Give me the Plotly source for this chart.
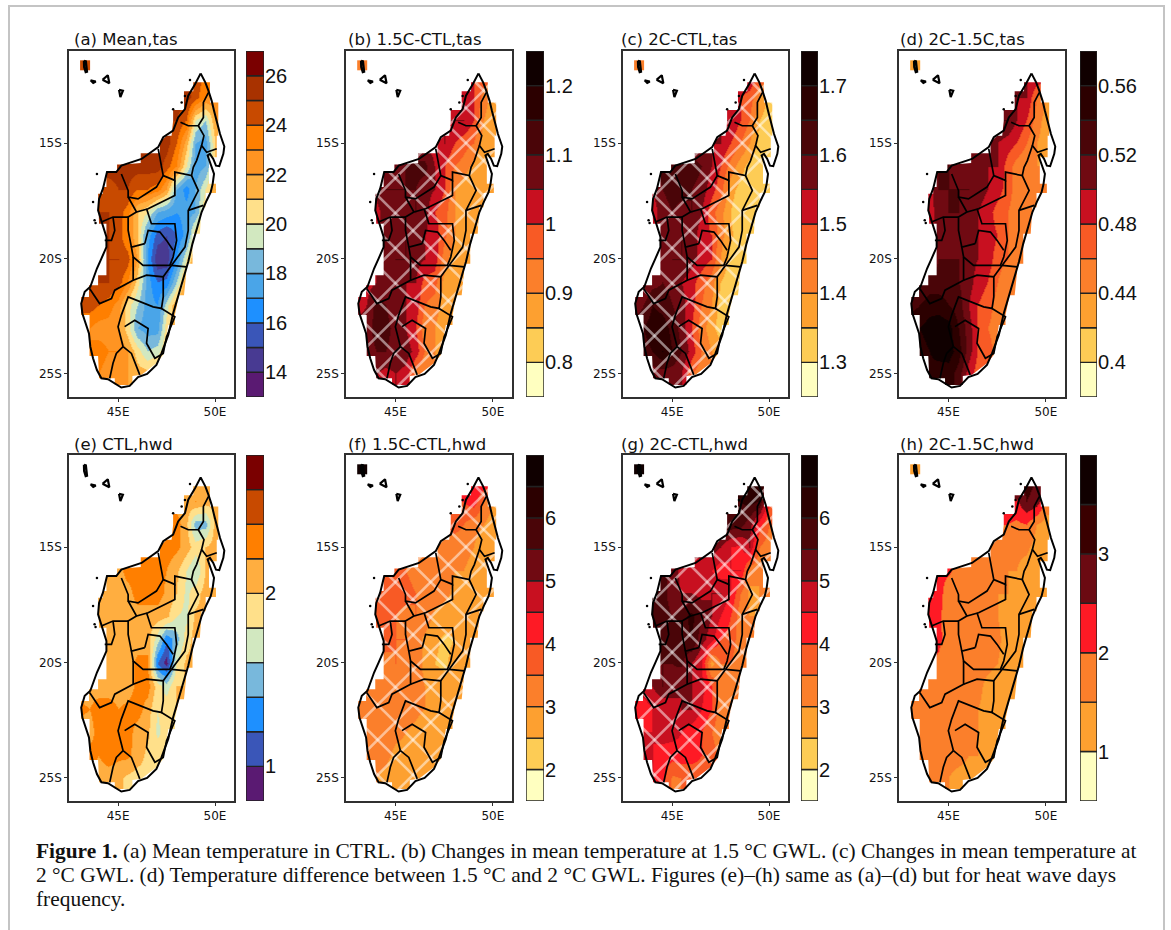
import plotly.graph_objects as go

# ---------- grid ----------
GRID_LON = [43, 43.5, 44, 44.5, 45, 45.5, 46, 46.5, 47, 47.5, 48, 48.5, 49, 49.5, 50, 50.5]
GRID_LAT = [-12, -13, -14, -15, -16, -17, -18, -19, -20, -21, -22, -23, -24, -25]
ROW_FIRST_LON = [49, 48.5, 48, 47, 45, 44, 44, 44.5, 44, 43.5, 43, 43.5, 43.5, 44]

TAS_MEAN = [
 [24.5, 24, 23],
 [25.5, 24.5, 23, 22.5],
 [25, 24, 20, 19, 22],
 [26, 25.5, 24, 21.5, 18, 17.5, 21, 23],
 [25.5, 25.5, 25.5, 25.5, 25.5, 24.5, 23, 20, 17.5, 18, 21],
 [24.5, 24.5, 25, 25, 24, 24, 23.5, 22, 18, 16.5, 18, 20, 22],
 [25, 25, 24.5, 23.5, 21, 20, 18, 17.5, 17, 17.5, 18, 21],
 [25, 24.5, 23, 21, 17.5, 15.5, 15, 16, 17.5, 21],
 [25, 25, 25, 24.5, 22, 17, 14.2, 14.3, 17, 20, 22],
 [24, 25, 25, 24.5, 23, 20.5, 17.5, 16, 16.3, 19, 22],
 [24.5, 24.5, 24, 23.5, 22.5, 20.5, 19, 17.5, 17, 19.5, 22],
 [23, 22.5, 22.5, 22, 20.5, 18, 17.5, 17.5, 20.5, 22],
 [23, 23.5, 23, 23, 22, 20.5, 19, 19.5, 21],
 [23, 22.5, 22, 22, 21.5, 21.5, 22],
]
TAS_15 = [
 [1.0, 0.98],
 [1.03, 1.0, .93, .87],
 [1.05, 1.05, 1.0, .9, .86],
 [1.03, 1.05, 1.0, .97, .95, .87, .86],
 [1.08, 1.1, 1.12, 1.12, 1.05, 1.0, .95, .93, .88, .86],
 [1.07, 1.1, 1.1, 1.1, 1.1, 1.07, 1.05, 1.0, .9, .87, .85, .86],
 [1.03, 1.08, 1.09, 1.07, 1.1, 1.08, 1.0, .97, .9, .86, .86],
 [1.05, 1.08, 1.1, 1.08, 1.05, 1.03, .96, .9, .87, .86],
 [1.05, 1.08, 1.1, 1.1, 1.07, 1.05, 1.03, .92, .87, .86],
 [1.03, 1.05, 1.07, 1.07, 1.05, 1.05, .98, .97, .88, .86],
 [1.03, 1.05, 1.12, 1.1, 1.07, 1.05, 1.03, .95, .93, .87, .86],
 [1.07, 1.13, 1.12, 1.08, 1.05, 1.0, .92, .9, .86],
 [1.07, 1.1, 1.1, 1.08, 1.08, 1.03, .95, .9, .88],
 [1.05, 1.03, 1.05, 1.03, .93, .9, .9],
]
TAS_20 = [
 [1.55, 1.5],
 [1.5, 1.48, 1.4, 1.33],
 [1.55, 1.5, 1.45, 1.35, 1.32],
 [1.55, 1.55, 1.5, 1.45, 1.4, 1.33, 1.32],
 [1.62, 1.63, 1.63, 1.6, 1.55, 1.5, 1.43, 1.37, 1.33, 1.32],
 [1.55, 1.6, 1.62, 1.62, 1.6, 1.58, 1.52, 1.47, 1.37, 1.33, 1.32, 1.32],
 [1.52, 1.58, 1.6, 1.58, 1.6, 1.55, 1.47, 1.42, 1.35, 1.31, 1.31],
 [1.55, 1.58, 1.6, 1.58, 1.52, 1.5, 1.42, 1.36, 1.32, 1.31],
 [1.55, 1.58, 1.6, 1.6, 1.57, 1.53, 1.5, 1.4, 1.33, 1.31],
 [1.55, 1.58, 1.6, 1.58, 1.55, 1.52, 1.47, 1.42, 1.35, 1.32],
 [1.55, 1.6, 1.65, 1.63, 1.6, 1.57, 1.52, 1.45, 1.4, 1.33, 1.32],
 [1.65, 1.68, 1.68, 1.63, 1.58, 1.5, 1.42, 1.37, 1.32],
 [1.63, 1.65, 1.7, 1.65, 1.6, 1.53, 1.45, 1.4, 1.38],
 [1.57, 1.57, 1.57, 1.55, 1.45, 1.42, 1.42],
]
TAS_DIFF = [
 [.5, .5],
 [.5, .5, .46, .44],
 [.52, .5, .48, .45, .43],
 [.52, .5, .49, .48, .46, .44, .43],
 [.52, .51, .51, .5, .5, .5, .47, .45, .44, .44],
 [.49, .52, .52, .52, .52, .51, .5, .49, .47, .45, .44, .44],
 [.49, .51, .52, .52, .51, .5, .49, .47, .46, .45, .44],
 [.5, .51, .51, .51, .5, .49, .48, .46, .45, .44],
 [.5, .52, .52, .52, .51, .5, .49, .47, .46, .44],
 [.52, .53, .53, .53, .52, .51, .49, .48, .46, .44],
 [.53, .54, .55, .55, .54, .53, .5, .48, .47, .45, .44],
 [.56, .57, .575, .57, .54, .51, .48, .46, .45],
 [.55, .56, .575, .57, .55, .51, .48, .47, .45],
 [.55, .54, .55, .53, .49, .47, .46],
]
HWD_CTL = [
 [2.1, 2.15],
 [2.1, 2.2, 2.1, 2.05],
 [2.3, 2.05, 1.5, 1.5, 2.1],
 [2.3, 2.3, 2.25, 2.1, 1.9, 2.0, 2.1],
 [2.1, 2.3, 2.3, 2.3, 2.3, 2.2, 2.05, 1.8, 1.6, 2.0],
 [2.1, 2.1, 2.1, 2.1, 2.3, 2.3, 2.3, 2.15, 2.0, 1.75, 1.9, 2.1],
 [2.1, 2.1, 2.1, 2.1, 2.1, 2.1, 2.1, 2.05, 1.8, 1.75, 2.05],
 [2.1, 2.1, 2.1, 2.1, 2.1, 1.7, 1.25, 1.5, 1.9, 2.1],
 [2.1, 2.1, 2.1, 2.1, 2.25, 2.25, 1.2, .9, 1.8, 2.05],
 [2.1, 2.1, 2.1, 2.1, 2.1, 2.25, 2.3, 1.9, 1.7, 2.0],
 [2.25, 2.2, 2.3, 2.3, 2.2, 2.25, 2.3, 2.1, 1.8, 1.95, 2.0],
 [2.1, 2.3, 2.3, 2.3, 2.3, 2.1, 2.05, 1.75, 1.9],
 [2.3, 2.2, 2.3, 2.25, 2.25, 2.1, 1.95, 1.95, 1.95],
 [2.1, 2.1, 2.05, 1.95, 1.9, 1.95, 1.95],
]
HWD_15 = [
 [4.3, 4.5],
 [4, 4.3, 3.5, 3],
 [3.7, 3.5, 3.2, 3, 2.7],
 [3.5, 3.3, 3.2, 3.2, 3, 2.6, 2.5],
 [3.6, 3.5, 3.4, 3.3, 3.2, 3.2, 3, 3, 2.8, 2.5],
 [3.9, 3.8, 3.6, 3.6, 3.5, 3.4, 3.2, 3.1, 2.9, 2.8, 2.7, 2.5],
 [3.9, 3.6, 3.5, 3.4, 3.5, 3.3, 2.9, 2.8, 2.8, 2.6, 2.5],
 [3.6, 3.5, 3.5, 3.2, 2.9, 2.6, 2.4, 2.5, 2.5, 2.5],
 [3.6, 3.4, 3.5, 3.4, 3.2, 2.9, 2.5, 2.4, 2.7, 2.6],
 [3.3, 3.2, 3.2, 3.3, 3.2, 3.2, 3, 2.7, 2.7, 2.7],
 [3.3, 3.2, 3.2, 3.2, 3.2, 3.2, 3.1, 3.0, 2.8, 2.7, 2.6],
 [3.2, 3.1, 3.2, 3.1, 3.0, 2.9, 2.7, 2.6, 2.5],
 [3.1, 3.1, 3.1, 2.9, 2.9, 2.8, 2.6, 2.5, 2.5],
 [3.0, 2.9, 2.7, 2.6, 2.6, 2.6, 2.6],
]
HWD_20 = [
 [6.5, 6.5],
 [6, 6.2, 6, 4],
 [5.8, 5.7, 5.2, 4.2, 3.5],
 [5.3, 5, 4.5, 4.4, 5, 3.5, 3.2],
 [5.5, 4.7, 4.6, 4.7, 4.5, 4.2, 4.5, 4.5, 3.2, 3],
 [6, 5.7, 5.2, 5, 5, 4.8, 5, 5, 4.5, 3.5, 2.9, 3],
 [6, 5.7, 5.5, 5.7, 6.2, 5.5, 5, 4.5, 4, 3.2, 3],
 [5.5, 5.6, 5.7, 6, 5.2, 4.7, 4, 3.8, 3.2, 3],
 [5.5, 5.5, 5.5, 5.6, 5, 4.5, 2.8, 3.5, 3.5, 3.2],
 [4.8, 5, 5.5, 5.4, 5, 5, 4.7, 4, 3.2, 3.1],
 [4, 4.2, 4.5, 4.5, 4.6, 5, 5, 4.5, 4, 3.2, 3],
 [4.5, 4.5, 4.8, 4.7, 4.5, 4.2, 4, 3.5, 3.2],
 [4.7, 4.5, 4.2, 4.2, 4.3, 4.3, 4, 3.7, 3.4],
 [4.5, 4.2, 3.4, 3.5, 3.5, 3.7, 3.7],
]
HWD_DIFF = [
 [3.2, 3],
 [2.4, 3, 2.8, 1.8],
 [2, 1.9, 2, 1.5, 1.3],
 [1.8, 1.7, 1.6, 1.6, 1.6, 1.3, 1.2],
 [2.1, 1.8, 1.7, 1.7, 1.5, 1.5, 1.5, 1.5, 1.3, 1.2],
 [2.3, 2.2, 1.7, 1.7, 1.6, 1.6, 1.7, 1.5, 1.5, 1.2, 1.2, 1.2],
 [2.4, 2.1, 1.7, 1.7, 1.7, 1.6, 1.5, 1.5, 1.3, 1.2, 1.2],
 [2.1, 1.8, 1.6, 1.7, 1.6, 1.6, 1.6, 1.3, 1.2, 1.2],
 [2.1, 1.9, 1.7, 1.7, 1.7, 1.6, 1.6, 1.5, 1.3, 1.2],
 [1.8, 1.9, 1.9, 1.8, 1.7, 1.7, 1.6, 1.4, 1.3, 1.2],
 [1.6, 1.7, 1.7, 1.7, 1.7, 1.7, 1.6, 1.5, 1.4, 1.3, 1.2],
 [1.7, 1.7, 1.7, 1.7, 1.6, 1.6, 1.5, 1.4, 1.3],
 [1.6, 1.6, 1.6, 1.6, 1.6, 1.5, 1.5, 1.3, 1.3],
 [1.6, 1.5, 1.5, 1.4, 1.4, 1.4, 1.4],
]

# ---------- map outlines (lon, lat) ----------
COAST_LON = [49.26,49.50,49.66,49.83,49.95,50.09,50.26,50.48,50.43,50.22,50.05,49.91,49.74,49.62,49.78,49.95,49.88,49.78,49.57,49.31,49.09,48.84,48.62,48.40,48.10,47.84,47.59,47.24,46.98,46.50,46.03,45.60,45.17,44.83,44.48,44.14,43.91,43.71,43.57,43.50,43.16,43.10,43.28,43.57,43.91,44.14,44.40,44.40,44.14,43.97,44.02,44.22,44.43,44.91,45.17,46.21,47.07,47.33,47.84,48.10,48.45,48.62,48.97,49.26]
COAST_LAT = [-11.97,-12.36,-12.72,-13.16,-13.59,-14.02,-14.60,-15.14,-15.46,-15.99,-15.97,-15.68,-15.46,-15.53,-15.89,-16.33,-16.76,-17.12,-17.48,-17.98,-18.63,-19.35,-20.14,-20.79,-21.66,-22.38,-23.31,-24.11,-24.61,-25.00,-25.14,-25.52,-25.59,-25.40,-25.23,-25.19,-24.83,-24.32,-23.82,-23.24,-22.38,-21.95,-21.44,-21.22,-20.43,-20.00,-19.50,-19.06,-18.41,-17.91,-17.41,-16.97,-16.25,-16.25,-15.97,-15.68,-15.17,-14.74,-14.45,-13.88,-13.52,-12.94,-12.44,-11.97]
# stair-stepped edge of the land cells that carry data
LAND_LON = [48.97,49.74,49.74,50.17,50.17,50.09,50.09,49.69,49.69,50.05,50.05,49.52,49.52,49.31,49.22,48.84,48.84,48.53,48.50,48.40,48.14,47.93,47.93,47.59,47.47,47.33,46.98,46.21,45.74,45.74,44.83,44.83,44.02,43.97,43.53,43.53,43.10,43.10,43.50,43.50,43.97,43.97,44.40,44.40,44.02,43.97,44.22,44.22,44.40,44.40,44.95,44.95,45.26,46.17,46.17,47.16,47.16,47.50,47.76,47.84,47.84,48.40,48.40,48.88,48.88,48.97]
LAND_LAT = [-12.36,-12.36,-13.23,-13.23,-14.67,-14.67,-15.61,-15.61,-16.76,-16.76,-17.16,-17.16,-17.77,-17.77,-18.92,-18.92,-20.22,-20.22,-20.79,-21.59,-21.59,-22.45,-22.88,-22.88,-23.53,-24.18,-24.54,-25.04,-25.09,-25.48,-25.48,-25.19,-25.19,-24.22,-24.22,-22.45,-22.45,-21.66,-21.66,-21.15,-21.15,-20.72,-20.72,-18.49,-18.49,-17.19,-17.19,-16.90,-16.90,-16.25,-16.25,-15.92,-15.92,-15.86,-15.43,-15.43,-14.96,-14.67,-14.67,-14.02,-13.56,-13.56,-12.75,-12.75,-12.36,-12.36]
ADMIN_LON = [48.22,48.62,49.14,49.40,49.40,49.66,None, 49.14,49.43,49.31,49.57,50.09,None,
 47.07,47.24,47.33,47.93,47.93,48.79,48.88,49.05,49.31,None,
 45.17,45.52,45.52,46.03,46.98,47.33,None, 45.52,45.95,46.55,47.93,47.93,None,
 48.79,49.14,48.62,48.62,48.45,47.76,48.53,None, 48.62,49.40,None,
 46.47,46.72,47.93,48.02,47.84,47.67,46.29,45.78,45.69,46.38,None,
 46.38,46.55,47.16,47.50,47.84,None, 45.95,45.52,45.52,45.69,None,
 44.14,44.74,45.52,None, 44.74,44.83,44.66,44.31,None,
 45.78,45.78,44.83,44.66,44.05,43.53,None,
 45.78,46.47,47.33,47.33,47.24,46.81,45.52,45.17,45.00,45.17,45.26,None,
 47.24,47.93,47.76,47.50,47.33,46.90,46.47,46.55,45.86,45.34,None, 47.76,47.33,None,
 45.26,44.91,44.74,44.57,None, 45.26,45.69,46.12]
ADMIN_LAT = [-14.09,-14.24,-14.24,-13.88,-13.23,-12.80,None, -14.24,-14.67,-15.10,-15.39,-15.24,None,
 -15.24,-15.97,-16.40,-16.61,-16.25,-16.40,-16.04,-15.75,-15.10,None,
 -16.33,-17.05,-17.33,-17.41,-16.90,-16.40,None, -17.33,-17.98,-17.84,-17.26,-16.61,None,
 -16.40,-17.05,-17.91,-18.78,-19.50,-20.29,-20.36,None, -17.91,-17.69,None,
 -17.84,-18.49,-18.49,-19.21,-19.93,-20.29,-20.29,-19.93,-19.50,-19.35,None,
 -19.35,-18.78,-18.85,-19.21,-19.64,None, -17.98,-18.20,-18.78,-19.50,None,
 -18.41,-18.20,-18.20,None, -18.20,-18.78,-19.21,-19.21,None,
 -19.93,-20.94,-21.37,-21.73,-21.95,-21.30,None,
 -20.94,-20.72,-20.79,-21.66,-22.16,-22.09,-21.66,-22.45,-22.95,-23.46,-23.82,None,
 -22.16,-22.52,-22.88,-23.39,-24.11,-24.32,-23.67,-23.03,-22.67,-22.95,None, -20.29,-20.79,None,
 -23.82,-24.11,-24.54,-25.19,None, -23.82,-24.11,-25.04]
ISLAND_LON = [43.24,43.34,43.40,43.33,43.25,43.24,None, 43.58,43.85,43.72,43.58,None, 44.20,44.47,44.55,44.20,None, 45.05,45.25,45.12,45.05]
ISLAND_LAT = [-11.42,-11.45,-11.90,-11.92,-11.70,-11.42,None, -12.27,-12.32,-12.38,-12.27,None, -12.25,-12.05,-12.40,-12.25,None, -12.68,-12.72,-13.00,-12.68]
ISLET_LON = [43.71,43.91,43.79,43.84,48.71,47.84,48.28,48.45]
ISLET_LAT = [-17.55,-16.33,-18.34,-18.46,-12.26,-13.52,-13.23,-12.95]
COMORE_CELL = (43.30, -11.62)

# hatch lines: latitude where each crosses 45E
HATCH_LAT_AT_45E = [-31.71, -30.19, -28.67, -27.15, -25.63, -24.11, -22.59, -21.07, -19.55, -18.03, -16.51, -14.99, -13.47, -11.95, -10.43, -8.91]
HATCH_SLOPE = 0.84

# ---------- colours ----------
COOL_14 = ["#5a1a72","#483a92","#3a56b8","#1e90ff","#4aa5e8","#78b8dc","#d2e8c0","#ffe08a","#ffb040","#ff9422","#ff7f00","#c84a00","#a83200","#7a0000"]
COOL_10 = ["#5a1a72","#3a56b8","#1e90ff","#78b8dc","#d2e8c0","#ffe08a","#ffae40","#ff7f00","#c84a00","#7a0000"]
HOT_10 = ["#ffffc0","#fdcc55","#fda030","#fb7f2b","#f85a25","#c81020","#700a12","#4a0508","#2c0000","#100000"]
HOT_11 = ["#ffffc0","#fdcc55","#fda030","#fb7f2b","#f85a25","#fe1a25","#c81020","#700a12","#4a0508","#2c0000","#100000"]
HOT_7 = ["#ffffc0","#fda030","#fb7f2b","#fe1a25","#6b0a12","#3a0000","#100000"]

# ---------- panels ----------
PANELS = [
 dict(title="(a) Mean,tas", z=TAS_MEAN, colors=COOL_14, lo=13, step=1, ticks=[14,16,18,20,22,24,26], labels=["14","16","18","20","22","24","26"], hatch=False, cell="#c84a00"),
 dict(title="(b) 1.5C-CTL,tas", z=TAS_15, colors=HOT_10, lo=.75, step=.05, ticks=[.8,.9,1,1.1,1.2], labels=["0.8","0.9","1","1.1","1.2"], hatch=True, cell="#fb7f2b"),
 dict(title="(c) 2C-CTL,tas", z=TAS_20, colors=HOT_10, lo=1.25, step=.05, ticks=[1.3,1.4,1.5,1.6,1.7], labels=["1.3","1.4","1.5","1.6","1.7"], hatch=True, cell="#fb7f2b"),
 dict(title="(d) 2C-1.5C,tas", z=TAS_DIFF, colors=HOT_10, lo=.38, step=.02, ticks=[.4,.44,.48,.52,.56], labels=["0.4","0.44","0.48","0.52","0.56"], hatch=False, cell="#fda030"),
 dict(title="(e) CTL,hwd", z=HWD_CTL, colors=COOL_10, lo=.8, step=.2, ticks=[1,2], labels=["1","2"], hatch=False, cell=None),
 dict(title="(f) 1.5C-CTL,hwd", z=HWD_15, colors=HOT_11, lo=1.5, step=.5, ticks=[2,3,4,5,6], labels=["2","3","4","5","6"], hatch=True, cell="#100000"),
 dict(title="(g) 2C-CTL,hwd", z=HWD_20, colors=HOT_11, lo=1.5, step=.5, ticks=[2,3,4,5,6], labels=["2","3","4","5","6"], hatch=True, cell="#100000"),
 dict(title="(h) 2C-1.5C,hwd", z=HWD_DIFF, colors=HOT_7, lo=.5, step=.5, ticks=[1,2,3], labels=["1","2","3"], hatch=False, cell="#fda030"),
]
MAP_LEFT = [69, 346, 623, 899]
MAP_RIGHT = [234, 512, 788, 1065]
BAR_LEFT = [246, 526, 801, 1080]
BAR_RIGHT = [264, 544, 818, 1097]
TITLE_LEFT = [72, 346, 619, 898]
ROW_TOP = [51, 455]
ROW_BOTTOM = [397, 801]
W, H = 1171, 930
LON_RANGE = [42.47, 50.98]
LAT_RANGE = [-26, -11]
FRAME = "#303030"


def full_grid(rows):
    out = []
    for first, vals in zip(ROW_FIRST_LON, rows):
        row = []
        for lon in GRID_LON:
            k = int(round((lon - first) * 2))
            row.append(vals[max(0, min(k, len(vals) - 1))])
        out.append(row)
    out.append(list(out[-1]))
    return out


def stepped(colors):
    n = len(colors)
    s = []
    for i, c in enumerate(colors):
        s += [[i / n, c], [(i + 1) / n, c]]
    return s


fig = go.Figure()
layout = dict(
    width=W, height=H, autosize=False, margin=dict(l=0, r=0, t=0, b=0),
    paper_bgcolor="white", plot_bgcolor="white", showlegend=False, barmode="overlay",
)
annotations = []

mask_lon = [48.97, 42.47, 42.47, 50.98, 50.98, 48.97] + LAND_LON + [48.97]
mask_lat = [-11, -11, -26, -26, -11, -11] + LAND_LAT + [-11]

hatch_lon, hatch_lat = [], []
for c in HATCH_LAT_AT_45E:
    for sign in (1, -1):
        hatch_lon += [42.47, 50.98, None]
        hatch_lat += [c + sign * HATCH_SLOPE * (42.47 - 45), c + sign * HATCH_SLOPE * (50.98 - 45), None]

for idx, p in enumerate(PANELS):
    r = idx // 4
    c = idx % 4
    xa, ya = f"x{2*idx+1}", f"y{2*idx+1}"
    xb, yb = f"x{2*idx+2}", f"y{2*idx+2}"
    n = len(p["colors"])
    hi = p["lo"] + n * p["step"]
    fig.add_trace(go.Contour(
        x=GRID_LON, y=GRID_LAT + [-26], z=full_grid(p["z"]), xaxis=xa, yaxis=ya,
        colorscale=stepped(p["colors"]), zmin=p["lo"], zmax=hi, showscale=False,
        autocontour=False,
        contours=dict(coloring="heatmap", showlines=False, start=p["lo"], end=hi, size=p["step"]),
        line=dict(width=0), hoverinfo="skip",
    ))
    if p["hatch"]:
        fig.add_trace(go.Scatter(x=hatch_lon, y=hatch_lat, xaxis=xa, yaxis=ya, mode="lines",
                                 line=dict(color="rgba(255,255,255,0.5)", width=2.6), hoverinfo="skip"))
    fig.add_trace(go.Scatter(x=mask_lon, y=mask_lat, xaxis=xa, yaxis=ya, mode="lines",
                             line=dict(width=0, color="white"), fill="toself", fillcolor="white", hoverinfo="skip"))
    if p["cell"]:
        fig.add_trace(go.Scatter(x=[COMORE_CELL[0]], y=[COMORE_CELL[1]], xaxis=xa, yaxis=ya, mode="markers",
                                 marker=dict(symbol="square", size=10, color=p["cell"]), hoverinfo="skip"))
    fig.add_trace(go.Scatter(x=ADMIN_LON, y=ADMIN_LAT, xaxis=xa, yaxis=ya, mode="lines",
                             line=dict(color="black", width=1.7), hoverinfo="skip"))
    fig.add_trace(go.Scatter(x=COAST_LON, y=COAST_LAT, xaxis=xa, yaxis=ya, mode="lines",
                             line=dict(color="black", width=2), hoverinfo="skip"))
    fig.add_trace(go.Scatter(x=ISLAND_LON, y=ISLAND_LAT, xaxis=xa, yaxis=ya, mode="lines",
                             line=dict(color="black", width=2.2), hoverinfo="skip"))
    fig.add_trace(go.Scatter(x=ISLET_LON, y=ISLET_LAT, xaxis=xa, yaxis=ya, mode="markers",
                             marker=dict(color="black", size=2.5), hoverinfo="skip"))
    fig.add_trace(go.Bar(
        x=[0] * n, y=[p["step"]] * n, base=[p["lo"] + i * p["step"] for i in range(n)],
        width=1, xaxis=xb, yaxis=yb, marker=dict(color=p["colors"], line=dict(color="#222222", width=1.4)),
        hoverinfo="skip",
    ))
    dom_x = [MAP_LEFT[c] / W, MAP_RIGHT[c] / W]
    dom_y = [1 - ROW_BOTTOM[r] / H, 1 - ROW_TOP[r] / H]
    layout[f"xaxis{2*idx+1}"] = dict(
        domain=dom_x, range=LON_RANGE, anchor=ya, tickvals=[45, 50], ticktext=["45E", "50E"],
        ticks="outside", ticklen=3, tickwidth=1, tickcolor=FRAME, showgrid=False, zeroline=False,
        showline=True, mirror=True, linecolor=FRAME, linewidth=1.5,
        tickfont=dict(family="DejaVu Sans", size=12, color="#111111"),
    )
    layout[f"yaxis{2*idx+1}"] = dict(
        domain=dom_y, range=LAT_RANGE, anchor=xa, tickvals=[-15, -20, -25], ticktext=["15S", "20S", "25S"],
        ticks="outside", ticklen=3, tickwidth=1, tickcolor=FRAME, showgrid=False, zeroline=False,
        showline=True, mirror=True, linecolor=FRAME, linewidth=1.5,
        tickfont=dict(family="DejaVu Sans", size=12, color="#111111"),
    )
    layout[f"xaxis{2*idx+2}"] = dict(
        domain=[BAR_LEFT[c] / W, BAR_RIGHT[c] / W], range=[-0.5, 0.5], anchor=yb,
        showticklabels=False, ticks="", showgrid=False, zeroline=False, showline=False,
    )
    layout[f"yaxis{2*idx+2}"] = dict(
        domain=dom_y, range=[p["lo"], hi], anchor=xb, side="right",
        tickvals=p["ticks"], ticktext=p["labels"], ticks="", showgrid=False, zeroline=False, showline=False,
        tickfont=dict(family="Liberation Sans", size=20, color="#111111"),
    )
    annotations.append(dict(
        text=p["title"], xref="paper", yref="paper", x=TITLE_LEFT[c] / W, y=1 - (ROW_TOP[r] - 11) / H,
        xanchor="left", yanchor="middle", showarrow=False,
        font=dict(family="DejaVu Sans", size=16.5, color="#111111"),
    ))

CAPTION = [
    "<b>Figure 1.</b> (a) Mean temperature in CTRL. (b) Changes in mean temperature at 1.5 °C GWL. (c) Changes in mean temperature at",
    "2 °C GWL. (d) Temperature difference between 1.5 °C and 2 °C GWL. Figures (e)–(h) same as (a)–(d) but for heat wave days",
    "frequency.",
]
for line, yy in zip(CAPTION, [851, 875, 899]):
    annotations.append(dict(
        text=line, xref="paper", yref="paper", x=34 / W, y=1 - yy / H, xanchor="left", yanchor="middle",
        showarrow=False, font=dict(family="Liberation Serif", size=21.4, color="#111111"),
    ))
layout["annotations"] = annotations
layout["shapes"] = [
    dict(type="line", xref="paper", yref="paper", x0=9 / W, x1=9 / W, y0=0, y1=1 - 6 / H, line=dict(color="#c4c4c4", width=2)),
    dict(type="line", xref="paper", yref="paper", x0=1164 / W, x1=1164 / W, y0=0, y1=1 - 6 / H, line=dict(color="#c4c4c4", width=2)),
    dict(type="line", xref="paper", yref="paper", x0=8 / W, x1=1165 / W, y0=1 - 6 / H, y1=1 - 6 / H, line=dict(color="#c4c4c4", width=2)),
]
fig.update_layout(**layout)
fig.write_html("out.html", config={"displayModeBar": False},
               post_script="document.body.style.margin='0';document.body.style.overflow='hidden';")
